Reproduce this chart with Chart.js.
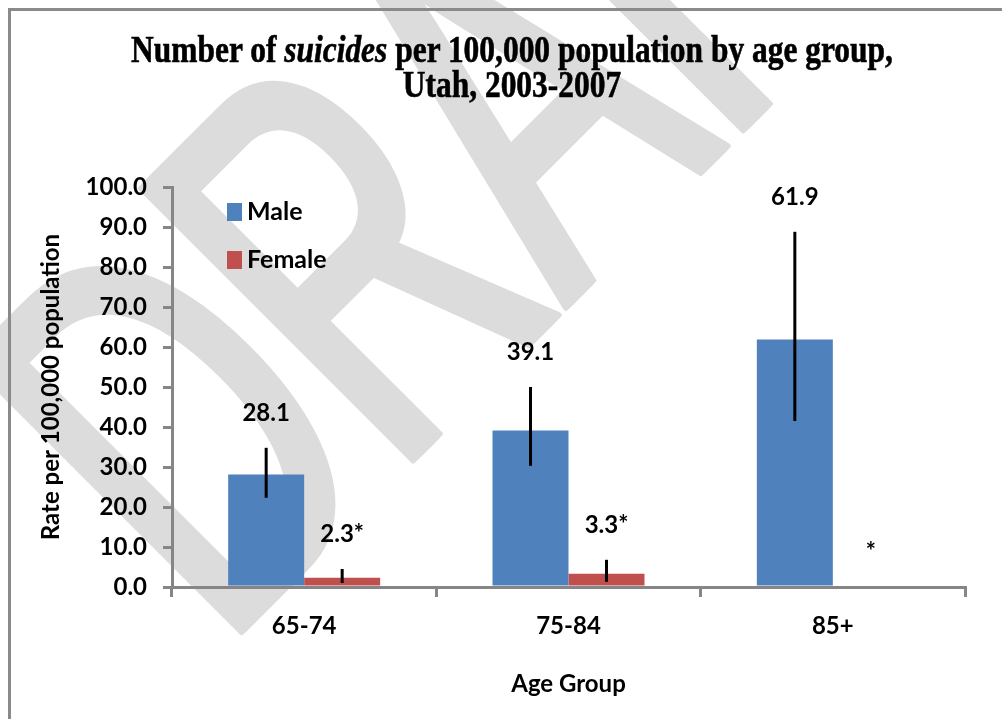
<!DOCTYPE html>
<html>
<head>
<meta charset="utf-8">
<title>Suicides by age group, Utah 2003-2007</title>
<script src="https://cdn.jsdelivr.net/npm/chart.js@4.4.1/dist/chart.umd.min.js"></script>
<style>
  body { margin: 0; background: #fff; }
  #wrap { position: relative; width: 1002px; height: 719px; overflow: hidden; }
  #chart { position: absolute; left: 0; top: 0; }
  #frame { position: absolute; left: 8px; top: 8px; width: 1100px; height: 800px;
           border-left: 3px solid #8a8a8a; border-top: 3px solid #8a8a8a; }
  #title { position: absolute; left: 0; top: 32px; width: 1024px; text-align: center;
           font: bold 37px "Liberation Serif", serif; line-height: 35px; color: #000;
           -webkit-text-stroke: 0.6px #000; transform: scaleX(0.85); }
</style>
</head>
<body>
<div id="wrap">
  <canvas id="chart" width="1002" height="719"></canvas>
  <div id="frame"></div>
  <div id="title">Number of <i>suicides</i> per 100,000 population by age group,<br>Utah, 2003-2007</div>
</div>
<script>
// rates per 100,000 with 95% CI
var ageGroups = ['65-74', '75-84', '85+'];
var maleRate = [28.1, 39.1, 61.9];
var maleLow = [22.3, 30.3, 41.5];
var maleHigh = [34.8, 50.0, 88.8];
var femaleRate = [2.3, 3.3, null];
var femaleLow = [1.0, 1.3, null];
var femaleHigh = [4.5, 6.8, null];
// * = unstable rate / suppressed
var femaleFlag = ['*', '*', '*'];

var maleTags = maleRate.map(function(v){ return v.toFixed(1); });
var femaleTags = femaleRate.map(function(v, i){
  return (v == null ? '' : v.toFixed(1)) + femaleFlag[i];
});

Chart.defaults.font.family = 'Lato';
Chart.defaults.color = '#000';

var axisGray = '#868686';
var boldFont = function(size){ return { family: 'Lato', weight: 'bold', size: size }; };

// big grey DRAFT stamp behind everything
// (narrow letters, stems thickened by smearing the text sideways)
var watermark = {
  id: 'watermark',
  beforeDraw: function(chart){
    var ctx = chart.ctx;
    ctx.save();
    ctx.translate(437, 437);
    ctx.rotate(-Math.PI / 4);
    ctx.scale(0.6, 1);
    ctx.fillStyle = '#dcdcdc';
    ctx.strokeStyle = '#dcdcdc';
    ctx.lineJoin = 'round';
    ctx.lineWidth = 5;
    ctx.font = '560px "Liberation Sans"';
    ctx.textBaseline = 'alphabetic';
    ctx.textAlign = 'left';
    for (var dx = 0; dx <= 15; dx += 3) {
      ctx.fillText('DRAFT', -305 / 0.6 + dx, 0);
      ctx.strokeText('DRAFT', -305 / 0.6 + dx, 0);
    }
    ctx.restore();
  }
};

// confidence interval lines
var errorBars = {
  id: 'errorBars',
  afterDatasetsDraw: function(chart){
    var ctx = chart.ctx, y = chart.scales.y;
    ctx.save();
    ctx.strokeStyle = '#000';
    ctx.lineWidth = 3;
    chart.data.datasets.forEach(function(ds, i){
      chart.getDatasetMeta(i).data.forEach(function(bar, j){
        if (ds.low[j] == null) return;
        ctx.beginPath();
        ctx.moveTo(bar.x, y.getPixelForValue(ds.low[j]));
        ctx.lineTo(bar.x, y.getPixelForValue(ds.high[j]));
        ctx.stroke();
      });
    });
    ctx.restore();
  }
};

// value labels sit above the CI line
var valueLabels = {
  id: 'valueLabels',
  afterDatasetsDraw: function(chart){
    var ctx = chart.ctx, y = chart.scales.y;
    ctx.save();
    ctx.fillStyle = '#000';
    ctx.font = 'bold 24px Lato';
    ctx.textAlign = 'center';
    ctx.textBaseline = 'middle';
    chart.data.datasets.forEach(function(ds, i){
      chart.getDatasetMeta(i).data.forEach(function(bar, j){
        var top = ds.high[j] != null ? ds.high[j] : 0;
        ctx.fillText(ds.tags[j], bar.x, y.getPixelForValue(top) - 35);
      });
    });
    ctx.restore();
  }
};

// legend inside the plot, stacked
var legendBox = {
  id: 'legendBox',
  afterDraw: function(chart){
    var ctx = chart.ctx, area = chart.chartArea;
    ctx.save();
    ctx.font = 'bold 25px Lato';
    ctx.textBaseline = 'middle';
    ctx.textAlign = 'left';
    chart.data.datasets.forEach(function(ds, i){
      var cy = area.top + 25 + i * 48;
      ctx.fillStyle = ds.backgroundColor;
      ctx.fillRect(area.left + 55, cy - 9, 15, 18);
      ctx.fillStyle = '#000';
      ctx.fillText(ds.label, area.left + 75, cy);
    });
    ctx.restore();
  }
};

var ctx = document.getElementById('chart').getContext('2d');
var suicideChart = new Chart(ctx, {
  type: 'bar',
  data: {
    labels: ageGroups,
    datasets: [{
      label: 'Male',
      data: maleRate,
      low: maleLow,
      high: maleHigh,
      tags: maleTags,
      backgroundColor: '#4F81BD'
    }, {
      label: 'Female',
      data: femaleRate,
      low: femaleLow,
      high: femaleHigh,
      tags: femaleTags,
      backgroundColor: '#C0504D'
    }]
  },
  options: {
    responsive: false,
    animation: false,
    layout: { padding: { top: 187, right: 37, left: 0, bottom: 0 } },
    datasets: { bar: { categoryPercentage: 0.575, barPercentage: 1 } },
    plugins: {
      legend: { display: false },
      tooltip: { enabled: false }
    },
    scales: {
      x: {
        grid: { offset: true, drawOnChartArea: false, color: axisGray, lineWidth: 3, tickLength: 10 },
        border: { color: axisGray, width: 3 },
        ticks: { font: boldFont(24), padding: 15 },
        title: { display: true, text: 'Age Group', font: boldFont(24), padding: { top: 0, bottom: 20 } },
        afterFit: function(s){ s.height = 132; }
      },
      y: {
        min: 0,
        max: 100,
        grid: { drawOnChartArea: false, color: axisGray, lineWidth: 3, tickLength: 9 },
        border: { color: axisGray, width: 3 },
        ticks: {
          stepSize: 10,
          font: boldFont(24),
          padding: 16,
          callback: function(v){ return v.toFixed(1); }
        },
        title: { display: true, text: 'Rate per 100,000 population', font: boldFont(24), padding: { top: 37, bottom: 0 } },
        afterFit: function(s){ s.width = 172; }
      }
    }
  },
  plugins: [watermark, errorBars, valueLabels, legendBox]
});
</script>
</body>
</html>
